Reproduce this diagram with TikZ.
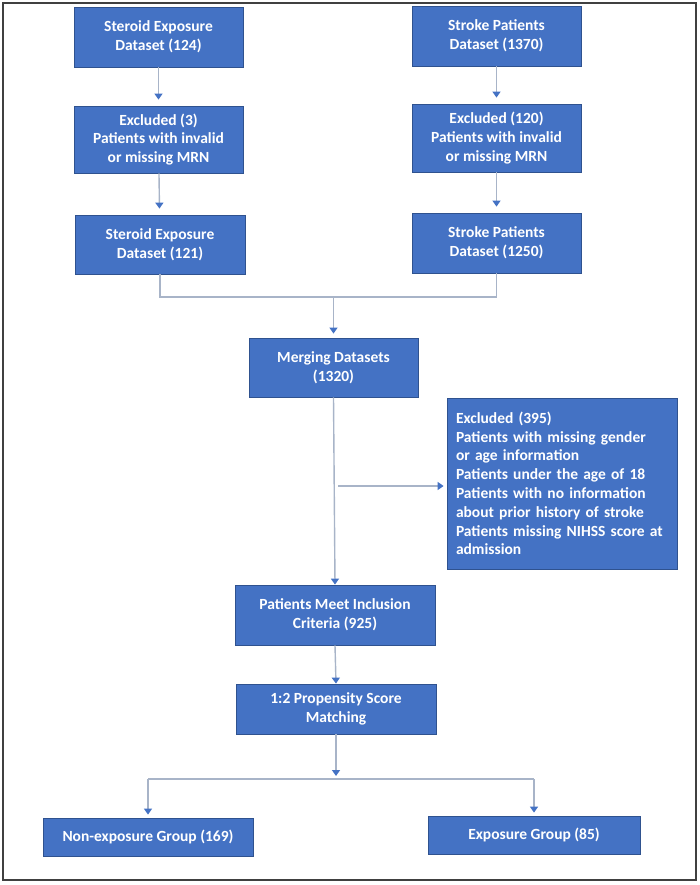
\documentclass[tikz,border=0pt]{standalone}
\usepackage{fontspec}
\setmainfont{Carlito}
\usepackage{xcolor}
\usetikzlibrary{calc}
\usetikzlibrary{arrows.meta}

\definecolor{boxblue}{HTML}{4472C4}
\definecolor{boxedge}{HTML}{2F528F}
\definecolor{linegrey}{RGB}{168,180,200}

\begin{document}
\begin{tikzpicture}[x = 1pt, y = -1pt]

\tikzstyle{box}=[rectangle, draw=boxedge, line width = 0.8, fill=boxblue, text=white, font=\fontsize{15.5}{18.8}\selectfont\bfseries, align=center, inner sep=2pt]
\tikzstyle{link}=[line width = 1.4, color = linegrey]
\tikzstyle{arr}=[link, -{Triangle[length=6pt, width=8pt, color=boxblue]}]

\useasboundingbox (0, 0) rectangle (699, 885);
\draw[line width = 1.2, color = black!75] (3, 3) rectangle (696, 880);

\coordinate (S1) at (158.5, 37);
\coordinate (S2) at (158.5, 139.5);
\coordinate (S3) at (160, 244.5);
\coordinate (P1) at (496.5, 36);
\coordinate (P2) at (496.5, 138);
\coordinate (P3) at (496.5, 243);
\coordinate (M) at (333.5, 367.5);
\coordinate (X) at (562, 483.5);
\coordinate (I) at (335, 615);
\coordinate (R) at (336, 709);
\coordinate (N) at (148, 837);
\coordinate (E) at (534, 835);
\coordinate (jn) at (333.5, 297);
\coordinate (br) at (338, 486);
\coordinate (sp) at (336, 779);

\path
(S1) node[box, minimum width = 169, minimum height = 60](s1) {Steroid Exposure\\Dataset (124)}
(S2) node[box, minimum width = 169, minimum height = 67](s2) {Excluded (3)\\Patients with invalid\\or missing MRN}
(S3) node[box, minimum width = 170, minimum height = 59](s3) {Steroid Exposure\\Dataset (121)}
(P1) node[box, minimum width = 169, minimum height = 60](p1) {Stroke Patients\\Dataset (1370)}
(P2) node[box, minimum width = 169, minimum height = 68](p2) {Excluded (120)\\Patients with invalid\\or missing MRN}
(P3) node[box, minimum width = 169, minimum height = 60](p3) {Stroke Patients\\Dataset (1250)};

\path
(M) node[box, minimum width = 169, minimum height = 59](merge) {Merging Datasets\\(1320)}
(X) node[box, minimum width = 230, minimum height = 171, align = left, text width = 212, inner xsep = 9](excl) {Excluded (395)\\Patients with missing gender\\or age information\\Patients under the age of 18\\Patients with no information\\about prior history of stroke\\Patients missing NIHSS score at\\admission\\[4pt]}
(I) node[box, minimum width = 200, minimum height = 60](incl) {Patients Meet Inclusion\\Criteria (925)}
(R) node[box, minimum width = 200, minimum height = 50](psm) {1:2 Propensity Score\\Matching}
(N) node[box, minimum width = 210, minimum height = 38](nonexp) {Non-exposure Group (169)}
(E) node[box, minimum width = 212, minimum height = 38](exp) {Exposure Group (85)};

%arrows down the two columns
\draw[arr, shorten >= 6] (s1) to (s2);
\draw[arr, shorten >= 6] (s2) to (s3);
\draw[arr, shorten >= 6] (p1) to (p2);
\draw[arr, shorten >= 6] (p2) to (p3);

%merging
\draw[link] (s3.south) |- (jn) -| (p3.south);
\draw[arr, shorten >= 4] (jn) to (merge.north);
\draw[arr] (merge.south) to (incl.north);
\draw[arr, shorten >= 3] (br) to (br -| excl.west);
\draw[arr] (incl.south) to (psm.north);

%split into groups
\draw[arr, shorten >= 3] (psm.south) to (sp);
\draw[link] (nonexp.north |- sp) to (exp.north |- sp);
\draw[arr, shorten >= 3] (nonexp.north |- sp) to (nonexp.north);
\draw[arr, shorten >= 3] (exp.north |- sp) to (exp.north);

\end{tikzpicture}
\end{document}
